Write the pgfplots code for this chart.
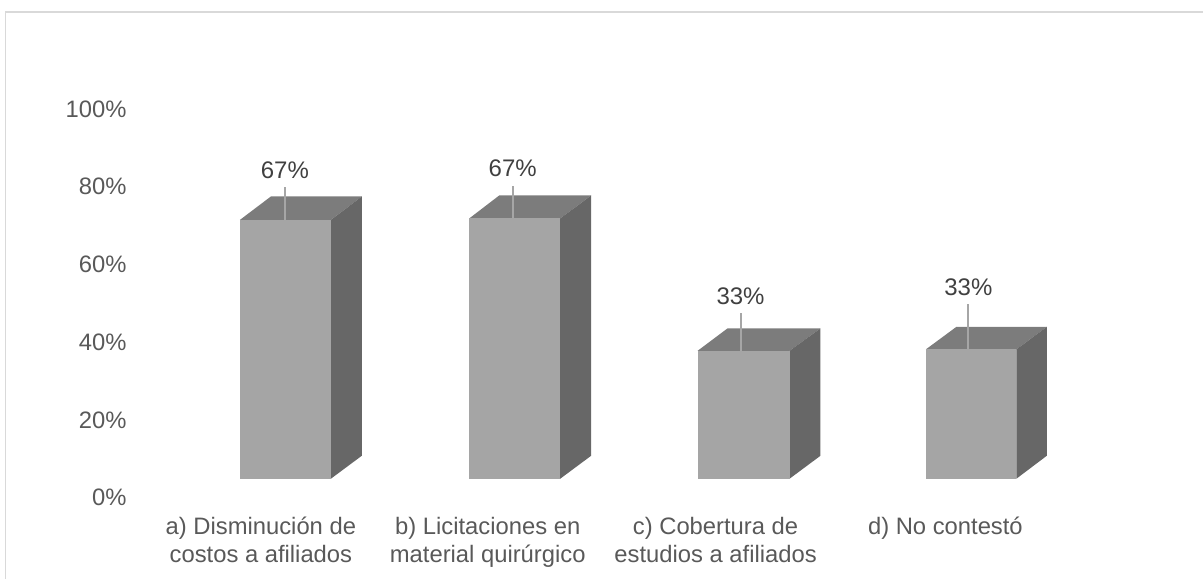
\documentclass[border=0pt]{standalone}
\usepackage{pgfplots}
\pgfplotsset{compat=1.18}
\usepackage{fontspec}
\setmainfont{Liberation Sans}
\definecolor{front}{HTML}{A5A5A5}
\definecolor{topf}{HTML}{7C7C7C}
\definecolor{sidef}{HTML}{676767}
\definecolor{tickc}{HTML}{595959}
\definecolor{labc}{HTML}{404040}
\definecolor{framec}{HTML}{D9D9D9}
\definecolor{leader}{HTML}{A6A6A6}
\begin{document}
\begin{tikzpicture}
\begin{axis}[
  width=1204pt, height=579pt, scale only axis,
  xmin=0, xmax=1204, ymin=-20.823, ymax=128.02,
  axis line style={draw=none},
  major tick length=0pt,
  clip=false,
  ytick={0,20,40,60,80,100},
  yticklabels={0\%,20\%,40\%,60\%,80\%,100\%},
  xtick={261,488,716,946},
  xticklabels={{a) Disminución de\\costos a afiliados},{b) Licitaciones en\\material quirúrgico},{c) Cobertura de\\estudios a afiliados},{d) No contestó}},
  tick label style={font=\fontsize{23.8}{28}\selectfont, text=tickc},
  yticklabel style={anchor=east, xshift=130pt},
  xticklabel style={align=center, anchor=north, yshift=65pt},
]
% frame
\addplot[draw=framec, line width=1.6pt] coordinates {(5.5,-20.823)(5.5,124.94)(1204,124.94)};
% a
\addplot[fill=topf, draw=none] coordinates {(240,71.47)(331,71.47)(362,77.5)(271,77.5)} --cycle;
\addplot[fill=sidef, draw=none] coordinates {(331,4.88)(362,10.8)(362,77.5)(331,71.47)} --cycle;
\addplot[fill=front, draw=none] coordinates {(240,4.88)(331,4.88)(331,71.47)(240,71.47)} --cycle;
% b
\addplot[fill=topf, draw=none] coordinates {(469.5,71.85)(560.5,71.85)(591.5,77.76)(499.5,77.76)} --cycle;
\addplot[fill=sidef, draw=none] coordinates {(560.5,4.88)(591.5,10.8)(591.5,77.76)(560.5,71.85)} --cycle;
\addplot[fill=front, draw=none] coordinates {(469.5,4.88)(560.5,4.88)(560.5,71.85)(469.5,71.85)} --cycle;
% c
\addplot[fill=topf, draw=none] coordinates {(698,37.79)(790,37.79)(821,43.57)(728,43.57)} --cycle;
\addplot[fill=sidef, draw=none] coordinates {(790,4.88)(821,10.8)(821,43.57)(790,37.79)} --cycle;
\addplot[fill=front, draw=none] coordinates {(698,4.88)(790,4.88)(790,37.79)(698,37.79)} --cycle;
% d
\addplot[fill=topf, draw=none] coordinates {(926.5,38.17)(1017,38.17)(1047.5,43.96)(957,43.96)} --cycle;
\addplot[fill=sidef, draw=none] coordinates {(1017,4.88)(1047.5,10.8)(1047.5,43.96)(1017,38.17)} --cycle;
\addplot[fill=front, draw=none] coordinates {(926.5,4.88)(1017,4.88)(1017,38.17)(926.5,38.17)} --cycle;
% leaders
\addplot[draw=leader, line width=2pt] coordinates {(285,71.47)(285,79.95)};
\addplot[draw=leader, line width=2pt] coordinates {(513,71.85)(513,80.2)};
\addplot[draw=leader, line width=2pt] coordinates {(741,37.79)(741,47.56)};
\addplot[draw=leader, line width=2pt] coordinates {(969,38.17)(969,49.87)};
% data labels
\tikzset{dl/.style={font=\fontsize{24}{28}\selectfont, text=labc, anchor=center}}
\node[dl] at (axis cs:285,84.3) {67\%};
\node[dl] at (axis cs:513,84.8) {67\%};
\node[dl] at (axis cs:741,51.9) {33\%};
\node[dl] at (axis cs:969,54.2) {33\%};
\end{axis}
\end{tikzpicture}
\end{document}
